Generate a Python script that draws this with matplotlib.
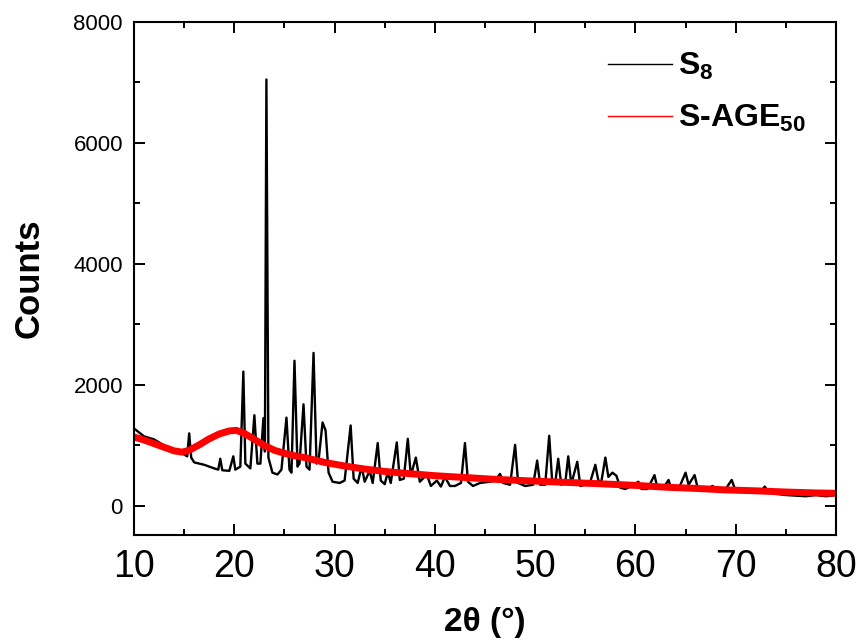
import matplotlib
matplotlib.use("Agg")
import matplotlib.pyplot as plt
from matplotlib.lines import Line2D
from matplotlib.ticker import MultipleLocator

plt.rcParams['font.family'] = ['Liberation Sans', 'DejaVu Sans']
plt.rcParams['mathtext.fontset'] = 'custom'
plt.rcParams['mathtext.rm'] = 'Liberation Sans:bold'
plt.rcParams['mathtext.bf'] = 'Liberation Sans:bold'

# S8 pattern (2theta, counts)
s8_x = [10, 11, 12, 13, 14, 15, 15.3, 15.5, 15.7, 16, 17, 18, 18.4, 18.6, 18.8,
        19.5, 19.9, 20.1, 20.6, 20.9, 21.1, 21.6, 22.0, 22.3, 22.6, 22.9, 23.05,
        23.2, 23.4, 23.8, 24.3, 24.7, 25.2, 25.5, 25.7, 26.0, 26.3, 26.5, 26.9,
        27.2, 27.5, 27.9, 28.2, 28.4, 28.8, 29.1, 29.4, 29.8, 30.5, 31.0, 31.6,
        31.9, 32.3, 32.7, 33.0, 33.5, 33.8, 34.3, 34.6, 35.0, 35.3, 35.6, 36.2,
        36.5, 36.9, 37.3, 37.6, 38.1, 38.5, 39.2, 39.6, 40.2, 40.6, 41.0, 41.5,
        42.0, 42.6, 43.0, 43.3, 43.8, 44.5, 45.5, 46.0, 46.5, 46.8, 47.5, 48.0,
        48.3, 49.0, 49.8, 50.2, 50.5, 51.0, 51.4, 51.7, 52.0, 52.3, 52.6, 53.0,
        53.3, 53.6, 54.2, 54.5, 55.0, 55.5, 56.0, 56.3, 56.6, 57.0, 57.3, 57.7,
        58.1, 58.5, 59.0, 59.5, 60.3, 60.6, 61.2, 61.9, 62.2, 62.8, 63.3, 63.6,
        64.3, 65.0, 65.3, 65.9, 66.2, 66.8, 67.7, 68.2, 69.0, 69.6, 69.9, 70.5,
        71.5, 72.5, 72.9, 73.2, 74.0, 75.0, 76.0, 77.0, 78.0, 79.0, 80.0]
s8_y = [1280, 1150, 1100, 1000, 930, 850, 820, 1200, 800, 720, 680, 620, 600, 780, 590,
        580, 820, 600, 650, 2220, 700, 620, 1500, 700, 700, 1450, 900,
        7050, 800, 550, 520, 600, 1460, 600, 550, 2400, 650, 700, 1680,
        650, 600, 2530, 700, 750, 1380, 1250, 550, 400, 380, 420, 1330,
        450, 380, 650, 400, 580, 380, 1040, 420, 360, 560, 380, 1050,
        430, 450, 1110, 500, 800, 400, 520, 330, 420, 320, 480, 330,
        330, 380, 1040, 400, 330, 380, 400, 420, 530, 380, 350, 1010,
        380, 330, 350, 750, 350, 350, 1160, 400, 380, 780, 350, 380,
        820, 360, 730, 330, 350, 400, 680, 420, 400, 800, 480, 550,
        500, 300, 280, 320, 400, 280, 280, 510, 290, 300, 430, 270,
        280, 550, 350, 510, 300, 260, 330, 250, 280, 430, 290, 260,
        240, 240, 320, 240, 200, 180, 170, 160, 180, 160, 180]

# S-AGE50 pattern (broad amorphous hump)
sage_x = [10, 11, 12, 13, 14, 14.8, 15.5, 16.5, 17.5, 18.5, 19.5, 20.2, 21, 22, 23,
          24, 25, 26, 27, 28, 29, 30, 31, 33, 35, 37, 40, 43, 46, 50, 53, 56,
          60, 63, 66, 69, 72, 75, 78, 80]
sage_y = [1140, 1090, 1030, 970, 910, 890, 920, 1010, 1110, 1190, 1240, 1250, 1200, 1100, 1000,
          920, 870, 830, 800, 760, 720, 690, 660, 610, 570, 540, 500, 470, 440, 410, 390, 370,
          340, 310, 290, 265, 250, 230, 215, 210]

fig = plt.figure(figsize=(8.57, 6.43), dpi=100)
ax = fig.add_axes([0.1564, 0.168, 0.8191, 0.7978])

ax.plot(s8_x, s8_y, color='black', lw=1.7)
ax.plot(sage_x, sage_y, color='red', lw=5)

ax.set_xlim(10, 80)
ax.set_ylim(-480, 8000)
ax.xaxis.set_major_locator(MultipleLocator(10))
ax.xaxis.set_minor_locator(MultipleLocator(5))
ax.yaxis.set_major_locator(MultipleLocator(2000))
ax.yaxis.set_minor_locator(MultipleLocator(1000))
ax.tick_params(which='both', direction='in', top=True, right=True, width=1.4)
ax.tick_params(which='major', length=8)
ax.tick_params(which='minor', length=4)
ax.tick_params(axis='y', labelsize=16, pad=8)
ax.tick_params(axis='x', labelsize=27, pad=10)
for sp in ax.spines.values():
    sp.set_linewidth(1.5)

ax.set_ylabel('Counts', fontsize=25, fontweight='bold', labelpad=20)
ax.set_xlabel('2θ (°)', fontsize=24, fontweight='bold', labelpad=16)

handles = [Line2D([], [], color='black', lw=1),
           Line2D([], [], color='red', lw=1)]
ax.legend(handles, ['S$_{8}$', 'S-AGE$_{50}$'], loc='upper left',
          bbox_to_anchor=(0.634, 1.0), frameon=False, prop={'size': 23, 'weight': 'bold'},
          handlelength=2.0, handletextpad=0.2, labelspacing=0.65)

fig.savefig('out.png', dpi=100)
